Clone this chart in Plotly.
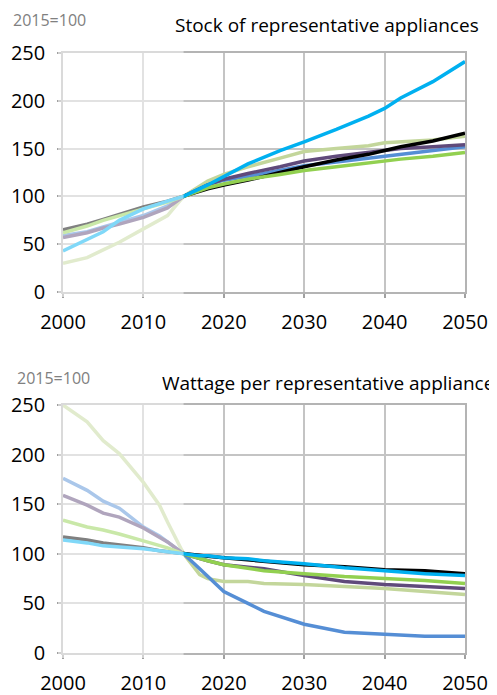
import plotly.graph_objects as go
from plotly.subplots import make_subplots

# ---- data: stock of representative appliances (2015=100)
stock_years = [2000, 2003, 2005, 2007, 2010, 2013, 2015, 2018, 2020, 2023, 2027, 2030, 2034, 2038, 2040, 2042, 2046, 2050]
stock_olive  = [30, 36, 44, 52, 66, 80, 100, 116, 123, 131, 140, 147, 150, 153, 156, 157, 159, 163]
stock_blue   = [59, 63, 68, 73, 80, 90, 100, 112, 117, 121, 127, 132, 136, 140, 142, 144, 148, 152]
stock_purple = [57, 62, 67, 71, 78, 88, 100, 112, 118, 124, 131, 137, 142, 146, 148, 150, 152, 154]
stock_black  = [65, 71, 76, 81, 89, 95, 100, 108, 112, 117, 125, 131, 138, 144, 148, 152, 158, 166]
stock_green  = [62, 69, 75, 80, 87, 94, 100, 109, 113, 118, 123, 127, 131, 135, 137, 139, 142, 146]
stock_cyan   = [43, 55, 63, 75, 87, 95, 100, 112, 121, 134, 148, 157, 170, 184, 192, 203, 220, 241]

# ---- data: wattage per representative appliance (2015=100)
watt_years = [2000, 2003, 2005, 2007, 2010, 2012, 2013, 2015, 2017, 2018, 2020, 2023, 2025, 2030, 2035, 2040, 2045, 2050]
watt_olive  = [250, 233, 214, 201, 172, 149, 132, 100, 79, 75, 72, 72, 70, 69, 67, 65, 62, 59]
watt_blue   = [176, 164, 153, 146, 127, 118, 112, 100, 85, 77, 62, 50, 42, 29, 21, 19, 17, 17]
watt_purple = [159, 149, 141, 137, 126, 117, 112, 100, 95, 93, 89, 87, 85, 78, 72, 69, 67, 65]
watt_black  = [117, 114, 111, 109, 106, 103, 102, 100, 98, 97.5, 96, 94, 92, 89, 87, 84, 83, 80]
watt_green  = [134, 127, 124, 120, 113, 108, 106, 100, 95, 93, 89, 85, 83, 80, 77, 75, 73, 70]
watt_cyan   = [114, 111, 108, 107, 105, 103, 102, 100, 98, 98, 96, 95, 93, 90, 86, 83, 80, 78]

x_ticks = [2000, 2010, 2020, 2030, 2040, 2050]
y_ticks = [0, 50, 100, 150, 200, 250]

colors = {
    "olive": "#c3d69b",
    "blue": "#558ed5",
    "purple": "#604a7b",
    "black": "#000000",
    "green": "#92d050",
    "cyan": "#00b0f0",
}

# page has an 8px body margin; figure fills the rest of the 497x695 window
OFF = 8
W, H = 497 - OFF, 695 - OFF
FONT = "Open Sans"


def px(x):
    return (x - OFF) / W


def py(y):
    return 1 - (y - OFF) / H


fig = make_subplots(rows=2, cols=1)

stock = [("olive", stock_olive), ("blue", stock_blue), ("purple", stock_purple),
         ("black", stock_black), ("green", stock_green), ("cyan", stock_cyan)]
watt = [("olive", watt_olive), ("blue", watt_blue), ("purple", watt_purple),
        ("black", watt_black), ("green", watt_green), ("cyan", watt_cyan)]

for name, vals in stock:
    fig.add_trace(go.Scatter(x=stock_years, y=vals, mode="lines", name=name,
                             line=dict(color=colors[name], width=3.5),
                             showlegend=False), row=1, col=1)
for name, vals in watt:
    fig.add_trace(go.Scatter(x=watt_years, y=vals, mode="lines", name=name,
                             line=dict(color=colors[name], width=3.5),
                             showlegend=False), row=2, col=1)

xdom = [px(63), px(465)]
ydom_top = [py(292), py(53)]
ydom_bot = [py(653), py(405)]

axis_common = dict(
    showgrid=True, gridcolor="#c4c4c4", gridwidth=1.5,
    showline=True, linecolor="#b4b4b4", linewidth=1.5,
    ticks="outside", ticklen=4, tickcolor="#a0a0a0", tickwidth=1.5,
    tickfont=dict(family=FONT, size=20, color="#000000"),
    zeroline=False, automargin=False,
)

for i, ydom in ((1, ydom_top), (2, ydom_bot)):
    xa = "xaxis" if i == 1 else "xaxis2"
    ya = "yaxis" if i == 1 else "yaxis2"
    fig.update_layout({
        xa: dict(axis_common, domain=xdom, range=[2000, 2050], tickvals=x_ticks,
                 ticklabelstandoff=7, mirror=True),
        ya: dict(axis_common, domain=ydom, range=[0, 250], tickvals=y_ticks,
                 ticklabelstandoff=8, mirror=True),
    })

# faded historical period (2000-2015)
x2015 = xdom[0] + (xdom[1] - xdom[0]) * 15 / 50
for y0, y1 in ((py(297), py(51)), (py(658), py(403))):
    fig.add_shape(type="rect", xref="paper", yref="paper",
                  x0=px(58), x1=x2015, y0=y0, y1=y1,
                  fillcolor="rgba(255,255,255,0.5)", line=dict(width=0),
                  layer="above")

annotations = [
    dict(text="2015=100", x=px(12), y=py(8), xanchor="left", yanchor="top",
         font=dict(family=FONT, size=16, color="#808080")),
    dict(text="Stock of representative appliances", x=px(174), y=py(25),
         xanchor="left", yanchor="middle",
         font=dict(family=FONT, size=19, color="#000000")),
    dict(text="2015=100", x=px(16), y=py(378), xanchor="left", yanchor="middle",
         font=dict(family=FONT, size=16, color="#808080")),
    dict(text="Wattage per representative appliances", x=px(161), y=py(383),
         xanchor="left", yanchor="middle",
         font=dict(family=FONT, size=19, color="#000000")),
]
for a in annotations:
    fig.add_annotation(xref="paper", yref="paper", showarrow=False, borderpad=0, **a)

fig.update_layout(
    width=W, height=H,
    margin=dict(l=0, r=0, t=0, b=0),
    paper_bgcolor="white", plot_bgcolor="white",
    template="none",
    showlegend=False,
)

fig.write_html("out.html")
